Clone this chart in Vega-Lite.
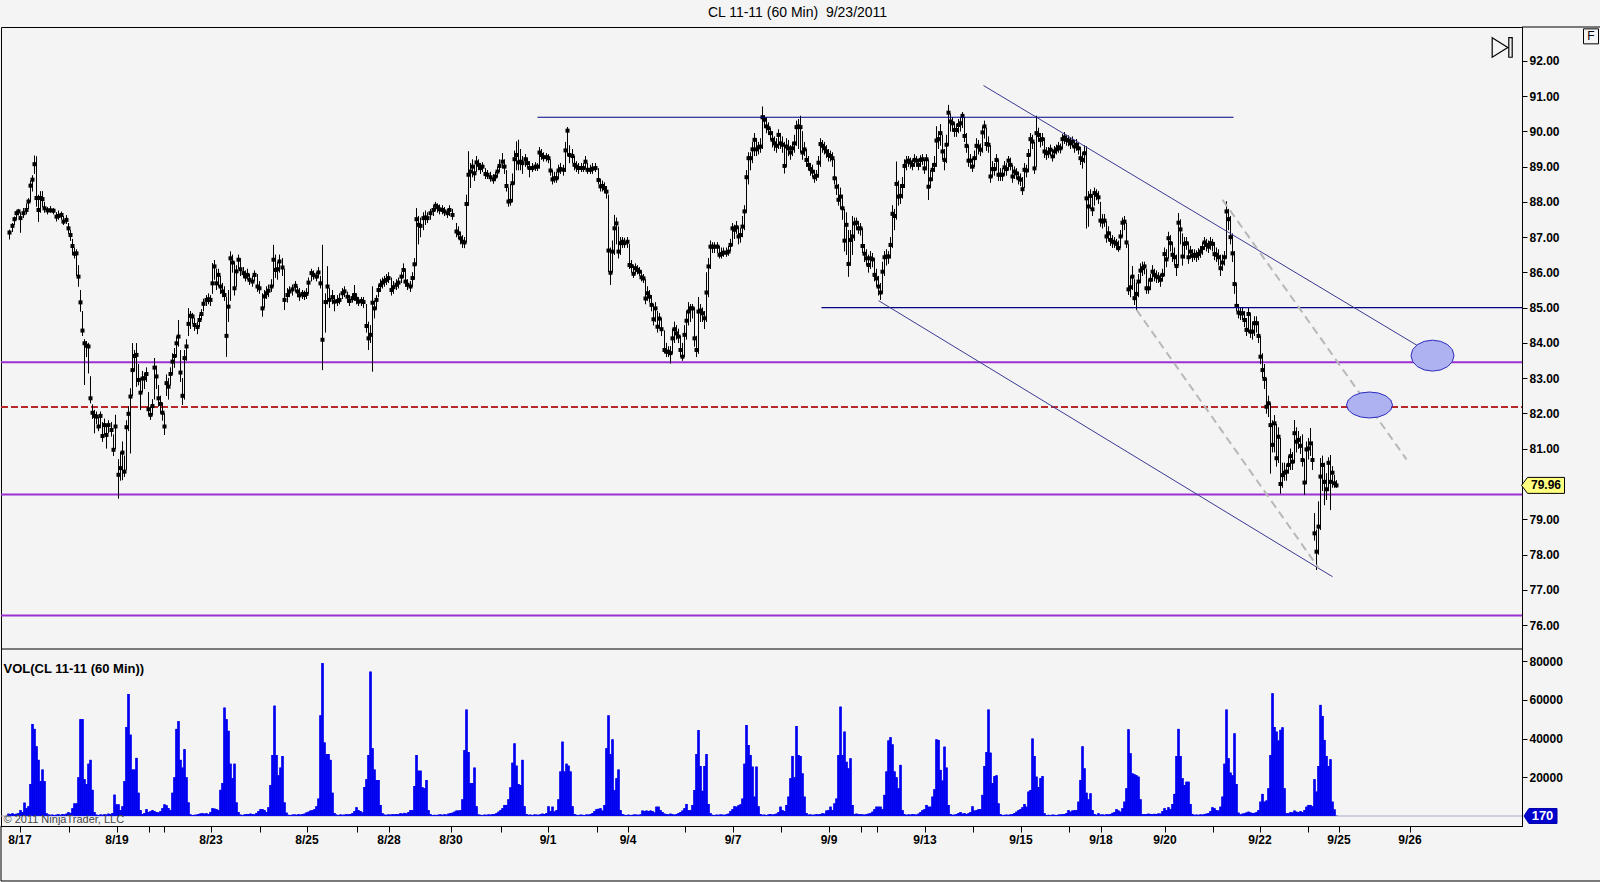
{
"$schema":"https://vega.github.io/schema/vega-lite/v6.json",
"width":1521,"height":799,
"autosize":{"type":"none"},
"padding":{"left":1,"top":27,"right":78,"bottom":56},
"background":"#f4f4f4",
"title":{"text":"CL 11-11 (60 Min) \u00a09/23/2011","fontSize":14,"fontWeight":"normal","font":"Liberation Sans","color":"#000","anchor":"middle","frame":"group","dx":36,"offset":7},
"config":{"view":{"stroke":"#000","strokeWidth":1,"fill":"#f4f4f4"},"font":"Liberation Sans","axis":{"grid":false,"domainColor":"#000","tickColor":"#000","labelColor":"#000","labelFont":"Liberation Sans","labelFontSize":12,"labelFontWeight":"bold","tickSize":5,"labelPadding":2}},
"datasets":{
"price":[
{"t":4.5,"c":87.13,"h":87.21,"l":86.94},{"t":6,"c":87.32,"h":87.40,"l":87.15},{"t":7,"c":87.51,"h":87.58,"l":87.35},{"t":8,"c":87.68,"h":87.75,"l":87.50},{"t":9,"c":87.73,"h":87.80,"l":87.62},{"t":10,"c":87.54,"h":87.70,"l":87.13},{"t":11.5,"c":87.68,"h":87.82,"l":87.55},{"t":13,"c":87.77,"h":87.95,"l":87.65},{"t":14,"c":88.01,"h":88.10,"l":87.80},{"t":15,"c":88.46,"h":88.60,"l":88.00},{"t":16,"c":88.63,"h":88.75,"l":88.30},{"t":17,"c":89.07,"h":89.31,"l":88.80},{"t":18,"c":88.11,"h":89.29,"l":87.87},{"t":19,"c":87.77,"h":88.20,"l":87.44},{"t":20,"c":88.11,"h":88.30,"l":87.70},{"t":21,"c":88.08,"h":88.30,"l":87.85},{"t":22,"c":87.82,"h":88.00,"l":87.70},{"t":23.5,"c":87.76,"h":87.85,"l":87.65},{"t":25,"c":87.76,"h":87.88,"l":87.70},{"t":26.5,"c":87.75,"h":87.82,"l":87.65},{"t":28,"c":87.58,"h":87.70,"l":87.45},{"t":29,"c":87.60,"h":87.75,"l":87.50},{"t":30.5,"c":87.63,"h":87.72,"l":87.50},{"t":31.5,"c":87.44,"h":87.60,"l":87.35},{"t":33,"c":87.49,"h":87.62,"l":87.38},{"t":34,"c":87.25,"h":87.40,"l":87.10},{"t":35,"c":87.06,"h":87.20,"l":86.90},{"t":36,"c":86.75,"h":86.95,"l":86.50},{"t":37,"c":86.53,"h":86.70,"l":86.40},{"t":38,"c":86.54,"h":86.65,"l":85.90},{"t":39,"c":85.88,"h":86.20,"l":85.60},{"t":40,"c":85.15,"h":85.50,"l":84.89},{"t":41,"c":84.35,"h":84.90,"l":84.20},{"t":42,"c":83.99,"h":84.10,"l":82.81},{"t":43,"c":83.92,"h":84.05,"l":83.60},{"t":44,"c":83.90,"h":84.00,"l":83.14},{"t":45,"c":82.43,"h":83.05,"l":82.29},{"t":46,"c":82.02,"h":82.25,"l":81.85},{"t":47,"c":81.93,"h":82.10,"l":81.44},{"t":48,"c":81.91,"h":82.05,"l":81.70},{"t":49,"c":81.63,"h":81.90,"l":81.50},{"t":50,"c":81.93,"h":82.05,"l":81.60},{"t":51,"c":81.36,"h":81.75,"l":81.20},{"t":52,"c":81.67,"h":81.85,"l":81.40},{"t":53,"c":81.39,"h":81.70,"l":81.01},{"t":54,"c":81.67,"h":81.80,"l":81.45},{"t":55.5,"c":81.53,"h":81.75,"l":81.35},{"t":56.5,"c":80.97,"h":81.40,"l":80.80},{"t":57.5,"c":81.63,"h":81.96,"l":81.00},{"t":59,"c":80.26,"h":80.70,"l":79.59},{"t":60,"c":80.45,"h":80.90,"l":80.10},{"t":61,"c":80.89,"h":81.20,"l":80.11},{"t":62,"c":80.35,"h":80.80,"l":80.20},{"t":63,"c":81.61,"h":81.80,"l":80.40},{"t":64,"c":81.99,"h":82.20,"l":81.50},{"t":65,"c":82.48,"h":82.71,"l":80.87},{"t":66,"c":83.23,"h":83.99,"l":82.50},{"t":67,"c":83.63,"h":83.80,"l":83.20},{"t":68,"c":83.66,"h":83.99,"l":82.76},{"t":69,"c":82.95,"h":83.40,"l":82.80},{"t":70,"c":82.59,"h":83.00,"l":82.10},{"t":71,"c":82.99,"h":83.20,"l":82.60},{"t":72,"c":83.00,"h":83.15,"l":82.70},{"t":73,"c":83.12,"h":83.30,"l":82.90},{"t":74,"c":82.12,"h":82.60,"l":81.95},{"t":75,"c":81.96,"h":82.20,"l":81.82},{"t":76,"c":82.21,"h":82.40,"l":81.95},{"t":77,"c":83.30,"h":83.57,"l":82.40},{"t":78,"c":83.05,"h":83.35,"l":82.70},{"t":79,"c":82.43,"h":82.80,"l":82.20},{"t":80,"c":82.27,"h":82.50,"l":82.00},{"t":81,"c":82.02,"h":82.30,"l":81.80},{"t":82,"c":81.63,"h":82.00,"l":81.39},{"t":83,"c":82.86,"h":83.10,"l":82.50},{"t":84,"c":82.76,"h":83.00,"l":82.40},{"t":85,"c":83.12,"h":83.30,"l":82.80},{"t":86,"c":83.47,"h":83.70,"l":83.10},{"t":87,"c":83.63,"h":83.85,"l":83.30},{"t":88,"c":83.99,"h":84.18,"l":83.60},{"t":89,"c":84.18,"h":84.65,"l":83.90},{"t":90,"c":83.16,"h":83.80,"l":82.90},{"t":91,"c":82.50,"h":83.00,"l":82.24},{"t":92,"c":83.57,"h":83.80,"l":82.40},{"t":93,"c":83.90,"h":84.10,"l":83.50},{"t":94,"c":84.54,"h":84.98,"l":84.20},{"t":95,"c":84.77,"h":84.90,"l":84.40},{"t":96,"c":84.75,"h":84.85,"l":84.55},{"t":97,"c":84.51,"h":84.70,"l":84.35},{"t":98.5,"c":84.45,"h":84.60,"l":84.25},{"t":99.5,"c":84.65,"h":84.80,"l":84.45},{"t":100.5,"c":84.82,"h":84.95,"l":84.65},{"t":101.5,"c":85.11,"h":85.25,"l":84.90},{"t":103,"c":85.22,"h":85.35,"l":85.05},{"t":104,"c":85.24,"h":85.40,"l":85.10},{"t":105,"c":85.22,"h":85.35,"l":85.05},{"t":106,"c":85.69,"h":86.26,"l":85.40},{"t":107,"c":86.17,"h":86.35,"l":85.80},{"t":108,"c":85.69,"h":86.10,"l":85.50},{"t":109,"c":85.93,"h":86.10,"l":85.60},{"t":110,"c":85.60,"h":85.90,"l":85.40},{"t":111,"c":85.46,"h":85.70,"l":85.30},{"t":112,"c":85.36,"h":85.60,"l":85.20},{"t":113,"c":84.20,"h":85.30,"l":83.61},{"t":114,"c":85.03,"h":85.50,"l":84.60},{"t":115,"c":86.40,"h":86.59,"l":85.20},{"t":116,"c":86.28,"h":86.50,"l":86.00},{"t":117,"c":85.55,"h":86.30,"l":85.35},{"t":118,"c":86.03,"h":86.20,"l":85.60},{"t":119,"c":86.36,"h":86.50,"l":86.10},{"t":120,"c":86.09,"h":86.40,"l":85.90},{"t":121.5,"c":85.98,"h":86.15,"l":85.85},{"t":122.5,"c":85.88,"h":86.05,"l":85.75},{"t":123.5,"c":85.93,"h":86.10,"l":85.80},{"t":124.5,"c":85.79,"h":85.95,"l":85.65},{"t":126,"c":85.74,"h":85.90,"l":85.60},{"t":127,"c":85.93,"h":86.05,"l":85.75},{"t":128.5,"c":85.60,"h":85.95,"l":85.45},{"t":129.5,"c":85.55,"h":85.75,"l":85.40},{"t":131,"c":84.98,"h":85.40,"l":84.75},{"t":132,"c":85.32,"h":85.50,"l":85.00},{"t":133,"c":85.41,"h":85.60,"l":85.25},{"t":134,"c":85.48,"h":85.65,"l":85.30},{"t":135.5,"c":85.60,"h":85.80,"l":85.45},{"t":136.5,"c":86.36,"h":86.78,"l":85.60},{"t":137.5,"c":86.07,"h":86.50,"l":85.85},{"t":138.5,"c":86.09,"h":86.30,"l":85.80},{"t":139.5,"c":86.31,"h":86.50,"l":86.00},{"t":141,"c":86.14,"h":86.40,"l":85.90},{"t":142,"c":85.22,"h":86.10,"l":84.94},{"t":143.5,"c":85.36,"h":85.55,"l":85.15},{"t":144.5,"c":85.46,"h":85.60,"l":85.30},{"t":146,"c":85.52,"h":85.65,"l":85.35},{"t":147.5,"c":85.62,"h":85.75,"l":85.45},{"t":148.5,"c":85.46,"h":85.60,"l":85.30},{"t":149.5,"c":85.35,"h":85.55,"l":85.20},{"t":151,"c":85.39,"h":85.50,"l":85.25},{"t":152,"c":85.36,"h":85.48,"l":85.22},{"t":153,"c":85.39,"h":85.55,"l":85.25},{"t":154,"c":85.71,"h":85.85,"l":85.40},{"t":155.5,"c":85.98,"h":86.10,"l":85.75},{"t":156.5,"c":85.93,"h":86.05,"l":85.80},{"t":158,"c":85.88,"h":86.00,"l":85.75},{"t":159,"c":86.00,"h":86.15,"l":85.85},{"t":160,"c":85.69,"h":85.90,"l":85.55},{"t":161,"c":84.09,"h":86.78,"l":83.23},{"t":162.5,"c":85.16,"h":85.40,"l":84.30},{"t":163.5,"c":85.60,"h":86.17,"l":85.10},{"t":164.5,"c":85.22,"h":85.55,"l":85.00},{"t":166,"c":85.30,"h":85.50,"l":85.10},{"t":167,"c":85.17,"h":85.35,"l":84.90},{"t":168.5,"c":85.19,"h":85.35,"l":85.05},{"t":169.5,"c":85.22,"h":85.40,"l":85.10},{"t":171,"c":85.41,"h":85.55,"l":85.25},{"t":172,"c":85.46,"h":85.60,"l":85.30},{"t":173.5,"c":85.31,"h":85.45,"l":85.15},{"t":174.5,"c":85.19,"h":85.35,"l":85.05},{"t":176,"c":85.27,"h":85.40,"l":85.15},{"t":177,"c":85.36,"h":85.64,"l":85.20},{"t":178,"c":85.25,"h":85.40,"l":85.10},{"t":179,"c":85.17,"h":85.30,"l":85.05},{"t":180.5,"c":85.19,"h":85.30,"l":85.05},{"t":181.5,"c":85.16,"h":85.30,"l":85.00},{"t":183,"c":84.48,"h":85.10,"l":84.30},{"t":184,"c":84.13,"h":84.60,"l":83.80},{"t":185,"c":84.23,"h":84.50,"l":84.00},{"t":186,"c":85.14,"h":85.60,"l":83.19},{"t":187,"c":84.98,"h":85.20,"l":84.70},{"t":188,"c":85.22,"h":85.35,"l":84.95},{"t":189,"c":85.50,"h":85.65,"l":85.30},{"t":190,"c":85.64,"h":85.80,"l":85.45},{"t":191,"c":85.71,"h":85.85,"l":85.55},{"t":192,"c":85.76,"h":85.90,"l":85.60},{"t":193,"c":85.79,"h":85.95,"l":85.65},{"t":194,"c":85.84,"h":86.00,"l":85.70},{"t":195.5,"c":85.50,"h":85.85,"l":85.35},{"t":196.5,"c":85.58,"h":85.75,"l":85.40},{"t":198,"c":85.65,"h":85.80,"l":85.50},{"t":199,"c":85.71,"h":85.85,"l":85.55},{"t":200.5,"c":85.88,"h":86.00,"l":85.70},{"t":201.5,"c":86.07,"h":86.25,"l":85.85},{"t":202.5,"c":85.74,"h":86.10,"l":85.60},{"t":203.5,"c":85.65,"h":85.80,"l":85.50},{"t":205,"c":85.60,"h":85.75,"l":85.45},{"t":206,"c":85.84,"h":86.00,"l":85.60},{"t":207,"c":86.23,"h":86.40,"l":85.80},{"t":208,"c":87.51,"h":87.82,"l":86.20},{"t":209,"c":87.35,"h":87.60,"l":86.80},{"t":210,"c":87.32,"h":87.55,"l":87.00},{"t":211.5,"c":87.54,"h":87.70,"l":87.20},{"t":212.5,"c":87.56,"h":87.75,"l":87.35},{"t":213.5,"c":87.54,"h":87.70,"l":87.40},{"t":215,"c":87.68,"h":87.80,"l":87.50},{"t":216.5,"c":87.77,"h":87.90,"l":87.60},{"t":217.5,"c":87.89,"h":88.00,"l":87.75},{"t":218.5,"c":87.85,"h":87.95,"l":87.70},{"t":219.5,"c":87.79,"h":87.92,"l":87.65},{"t":221,"c":87.77,"h":87.90,"l":87.65},{"t":222,"c":87.73,"h":87.85,"l":87.60},{"t":223.5,"c":87.68,"h":87.80,"l":87.55},{"t":224.5,"c":87.77,"h":87.90,"l":87.60},{"t":226,"c":87.63,"h":87.80,"l":87.50},{"t":228,"c":87.16,"h":87.40,"l":87.00},{"t":229,"c":87.11,"h":87.30,"l":86.95},{"t":230,"c":86.97,"h":87.15,"l":86.80},{"t":231,"c":86.87,"h":87.05,"l":86.70},{"t":232,"c":86.85,"h":87.00,"l":86.69},{"t":233,"c":87.94,"h":88.20,"l":86.85},{"t":234,"c":88.77,"h":89.43,"l":87.90},{"t":235,"c":88.86,"h":89.10,"l":88.40},{"t":236,"c":89.00,"h":89.20,"l":88.70},{"t":237,"c":88.81,"h":89.05,"l":88.60},{"t":238,"c":89.12,"h":89.30,"l":88.85},{"t":239,"c":89.05,"h":89.20,"l":88.90},{"t":240,"c":88.96,"h":89.10,"l":88.80},{"t":241,"c":89.00,"h":89.12,"l":88.85},{"t":242.5,"c":88.79,"h":88.95,"l":88.65},{"t":243.5,"c":88.77,"h":88.90,"l":88.65},{"t":245,"c":88.70,"h":88.85,"l":88.58},{"t":246.5,"c":88.64,"h":88.78,"l":88.52},{"t":247.5,"c":88.72,"h":88.85,"l":88.60},{"t":248.5,"c":88.86,"h":89.00,"l":88.70},{"t":249.5,"c":89.02,"h":89.20,"l":88.85},{"t":251,"c":89.14,"h":89.38,"l":88.95},{"t":252,"c":89.00,"h":89.20,"l":88.80},{"t":253,"c":88.45,"h":88.90,"l":88.30},{"t":254,"c":88.01,"h":88.40,"l":87.87},{"t":255,"c":88.03,"h":88.50,"l":87.90},{"t":256,"c":88.53,"h":88.80,"l":88.00},{"t":257,"c":89.21,"h":89.45,"l":88.50},{"t":258,"c":89.33,"h":89.71,"l":88.90},{"t":259,"c":89.12,"h":89.76,"l":88.90},{"t":260,"c":89.14,"h":89.50,"l":88.90},{"t":261,"c":89.10,"h":89.30,"l":88.80},{"t":262.5,"c":89.21,"h":89.35,"l":89.00},{"t":263.5,"c":89.10,"h":89.25,"l":88.95},{"t":264.5,"c":88.96,"h":89.15,"l":88.70},{"t":266,"c":88.96,"h":89.10,"l":88.85},{"t":267.5,"c":89.00,"h":89.12,"l":88.88},{"t":268.5,"c":89.00,"h":89.10,"l":88.88},{"t":269.5,"c":89.40,"h":89.55,"l":88.95},{"t":270.5,"c":89.33,"h":89.50,"l":89.20},{"t":271.5,"c":89.27,"h":89.40,"l":89.15},{"t":273,"c":89.27,"h":89.38,"l":89.15},{"t":274,"c":89.24,"h":89.35,"l":89.10},{"t":275,"c":88.89,"h":89.20,"l":88.75},{"t":276,"c":88.64,"h":88.90,"l":88.50},{"t":277,"c":88.67,"h":88.85,"l":88.55},{"t":278,"c":88.67,"h":88.85,"l":88.55},{"t":279,"c":88.89,"h":89.05,"l":88.65},{"t":280,"c":88.93,"h":89.10,"l":88.80},{"t":281.5,"c":88.91,"h":89.05,"l":88.75},{"t":282.5,"c":89.46,"h":89.70,"l":88.85},{"t":283.5,"c":90.02,"h":90.12,"l":89.30},{"t":284.5,"c":89.33,"h":89.60,"l":89.10},{"t":286,"c":89.30,"h":89.50,"l":89.10},{"t":287,"c":89.05,"h":89.30,"l":88.90},{"t":288,"c":89.00,"h":89.15,"l":88.85},{"t":289,"c":88.96,"h":89.10,"l":88.80},{"t":290.5,"c":88.96,"h":89.10,"l":88.85},{"t":291.5,"c":88.96,"h":89.10,"l":88.85},{"t":292.5,"c":89.14,"h":89.30,"l":88.95},{"t":293.5,"c":88.91,"h":89.10,"l":88.80},{"t":295,"c":88.91,"h":89.05,"l":88.80},{"t":296,"c":88.94,"h":89.10,"l":88.80},{"t":297.5,"c":88.96,"h":89.10,"l":88.85},{"t":299,"c":88.62,"h":88.95,"l":88.50},{"t":300,"c":88.44,"h":88.65,"l":88.30},{"t":301,"c":88.45,"h":88.60,"l":88.30},{"t":302,"c":88.39,"h":88.55,"l":88.25},{"t":303,"c":88.29,"h":88.45,"l":88.10},{"t":304,"c":86.62,"h":88.20,"l":86.02},{"t":305,"c":85.99,"h":86.70,"l":85.65},{"t":306,"c":86.59,"h":86.90,"l":86.00},{"t":307,"c":87.25,"h":87.63,"l":86.50},{"t":308,"c":87.39,"h":87.55,"l":86.80},{"t":309,"c":86.59,"h":87.30,"l":86.40},{"t":310,"c":86.83,"h":87.00,"l":86.50},{"t":311,"c":86.87,"h":87.00,"l":86.70},{"t":312,"c":86.83,"h":86.98,"l":86.70},{"t":313.5,"c":86.87,"h":87.00,"l":86.70},{"t":314.5,"c":86.21,"h":86.80,"l":86.10},{"t":315.5,"c":86.18,"h":86.35,"l":86.00},{"t":316.5,"c":85.96,"h":86.20,"l":85.85},{"t":317.5,"c":86.12,"h":86.25,"l":85.95},{"t":318.5,"c":86.07,"h":86.20,"l":85.95},{"t":319.5,"c":86.02,"h":86.15,"l":85.90},{"t":320.5,"c":85.86,"h":86.05,"l":85.75},{"t":321.5,"c":85.83,"h":85.95,"l":85.70},{"t":322.5,"c":85.26,"h":85.80,"l":85.10},{"t":323.5,"c":85.41,"h":85.60,"l":85.20},{"t":324.5,"c":85.31,"h":85.50,"l":85.15},{"t":325.5,"c":85.08,"h":85.35,"l":84.90},{"t":326.5,"c":84.67,"h":85.10,"l":84.50},{"t":327.5,"c":84.98,"h":85.15,"l":84.60},{"t":328.5,"c":84.46,"h":84.90,"l":84.30},{"t":329.5,"c":84.69,"h":84.85,"l":84.40},{"t":330.5,"c":84.39,"h":84.70,"l":84.20},{"t":332,"c":83.80,"h":84.35,"l":83.71},{"t":333,"c":83.75,"h":84.00,"l":83.60},{"t":334,"c":83.75,"h":83.90,"l":83.60},{"t":335,"c":83.71,"h":83.90,"l":83.42},{"t":336,"c":84.13,"h":84.40,"l":83.70},{"t":337,"c":84.39,"h":84.60,"l":84.00},{"t":338,"c":84.27,"h":84.50,"l":84.10},{"t":339,"c":84.18,"h":84.40,"l":84.00},{"t":340,"c":83.80,"h":84.20,"l":83.60},{"t":341,"c":83.61,"h":84.00,"l":83.50},{"t":342,"c":84.23,"h":84.50,"l":83.60},{"t":343,"c":84.63,"h":84.90,"l":84.10},{"t":344,"c":84.89,"h":85.15,"l":84.50},{"t":345,"c":84.98,"h":85.10,"l":84.60},{"t":346,"c":84.98,"h":85.10,"l":84.70},{"t":347,"c":84.13,"h":85.00,"l":83.90},{"t":348,"c":83.80,"h":84.20,"l":83.60},{"t":349,"c":84.89,"h":85.30,"l":83.70},{"t":350,"c":84.92,"h":85.10,"l":84.60},{"t":351,"c":84.84,"h":85.00,"l":84.60},{"t":352,"c":84.70,"h":84.90,"l":84.40},{"t":353,"c":85.43,"h":86.00,"l":84.60},{"t":354,"c":86.17,"h":86.40,"l":85.30},{"t":355,"c":86.73,"h":86.90,"l":86.10},{"t":356,"c":86.73,"h":86.85,"l":86.55},{"t":357,"c":86.73,"h":86.85,"l":86.55},{"t":358.5,"c":86.73,"h":86.85,"l":86.55},{"t":359.5,"c":86.50,"h":86.75,"l":86.40},{"t":360.5,"c":86.52,"h":86.70,"l":86.40},{"t":361.5,"c":86.56,"h":86.70,"l":86.45},{"t":363,"c":86.56,"h":86.70,"l":86.45},{"t":364,"c":86.59,"h":86.75,"l":86.48},{"t":365,"c":86.78,"h":86.95,"l":86.60},{"t":366,"c":87.25,"h":87.40,"l":86.75},{"t":367,"c":87.21,"h":87.35,"l":86.95},{"t":368,"c":87.28,"h":87.45,"l":87.10},{"t":369,"c":87.02,"h":87.30,"l":86.80},{"t":370,"c":87.06,"h":87.25,"l":86.85},{"t":371,"c":87.30,"h":87.60,"l":87.00},{"t":372,"c":87.73,"h":87.90,"l":87.20},{"t":373,"c":88.70,"h":88.90,"l":87.70},{"t":374,"c":89.24,"h":89.40,"l":88.50},{"t":375,"c":89.24,"h":89.40,"l":88.90},{"t":376,"c":89.49,"h":89.70,"l":89.10},{"t":377,"c":89.76,"h":89.95,"l":89.30},{"t":378,"c":89.49,"h":89.80,"l":89.30},{"t":379,"c":89.55,"h":89.70,"l":89.35},{"t":380,"c":89.57,"h":89.80,"l":89.40},{"t":381,"c":90.40,"h":90.70,"l":89.50},{"t":382,"c":90.33,"h":90.45,"l":90.10},{"t":383,"c":90.14,"h":90.40,"l":89.95},{"t":384,"c":90.09,"h":90.25,"l":89.90},{"t":385,"c":89.95,"h":90.10,"l":89.75},{"t":386,"c":89.76,"h":90.00,"l":89.55},{"t":387,"c":89.66,"h":89.85,"l":89.45},{"t":388,"c":89.59,"h":89.80,"l":89.40},{"t":389,"c":89.90,"h":90.05,"l":89.50},{"t":390,"c":89.66,"h":89.95,"l":89.50},{"t":391,"c":89.62,"h":89.85,"l":89.40},{"t":392,"c":89.02,"h":89.70,"l":88.81},{"t":393,"c":89.57,"h":89.80,"l":89.00},{"t":394,"c":89.52,"h":89.75,"l":89.30},{"t":395,"c":89.40,"h":89.60,"l":89.20},{"t":396,"c":89.52,"h":89.70,"l":89.30},{"t":397,"c":89.66,"h":89.90,"l":89.40},{"t":398,"c":90.12,"h":90.30,"l":89.60},{"t":399,"c":90.14,"h":90.35,"l":89.50},{"t":400,"c":90.12,"h":90.44,"l":89.40},{"t":401,"c":89.40,"h":90.00,"l":89.20},{"t":402,"c":89.49,"h":89.70,"l":89.30},{"t":403,"c":89.19,"h":89.50,"l":89.00},{"t":404,"c":89.05,"h":89.30,"l":88.90},{"t":405,"c":88.93,"h":89.10,"l":88.75},{"t":406,"c":88.86,"h":89.05,"l":88.70},{"t":407,"c":88.70,"h":88.90,"l":88.55},{"t":408,"c":88.74,"h":88.90,"l":88.60},{"t":409,"c":89.11,"h":89.30,"l":88.70},{"t":410,"c":89.64,"h":89.80,"l":89.00},{"t":411,"c":89.59,"h":89.75,"l":89.40},{"t":412,"c":89.52,"h":89.70,"l":89.35},{"t":413,"c":89.43,"h":89.60,"l":89.25},{"t":414,"c":89.33,"h":89.50,"l":89.15},{"t":415,"c":89.30,"h":89.45,"l":89.15},{"t":416,"c":89.24,"h":89.40,"l":89.00},{"t":417,"c":88.67,"h":89.20,"l":88.50},{"t":418,"c":88.43,"h":88.70,"l":88.20},{"t":419,"c":88.06,"h":88.50,"l":87.90},{"t":420,"c":88.15,"h":88.40,"l":87.80},{"t":421,"c":87.82,"h":88.20,"l":87.50},{"t":422,"c":86.90,"h":87.80,"l":86.60},{"t":423,"c":87.35,"h":87.70,"l":86.50},{"t":424,"c":86.24,"h":87.20,"l":85.88},{"t":425,"c":86.92,"h":87.20,"l":86.20},{"t":426,"c":87.02,"h":87.60,"l":86.50},{"t":427,"c":87.39,"h":87.55,"l":86.90},{"t":428,"c":87.41,"h":87.55,"l":87.20},{"t":429,"c":87.25,"h":87.45,"l":87.10},{"t":430,"c":87.25,"h":87.40,"l":87.05},{"t":431,"c":86.75,"h":87.25,"l":86.55},{"t":432,"c":86.53,"h":86.80,"l":86.30},{"t":433,"c":86.40,"h":86.65,"l":86.20},{"t":434,"c":86.21,"h":86.50,"l":86.00},{"t":435,"c":86.40,"h":86.60,"l":86.10},{"t":436,"c":86.37,"h":86.55,"l":86.15},{"t":437,"c":85.93,"h":86.40,"l":85.75},{"t":438,"c":85.83,"h":86.10,"l":85.60},{"t":439,"c":85.60,"h":85.90,"l":85.35},{"t":440,"c":85.43,"h":85.70,"l":85.22},{"t":441,"c":86.02,"h":86.30,"l":85.40},{"t":442,"c":86.43,"h":86.60,"l":85.90},{"t":443,"c":86.45,"h":86.65,"l":86.20},{"t":444,"c":86.45,"h":86.60,"l":86.25},{"t":445,"c":86.78,"h":87.00,"l":86.40},{"t":446,"c":87.66,"h":87.90,"l":86.70},{"t":447,"c":87.60,"h":87.80,"l":87.20},{"t":448,"c":88.51,"h":89.14,"l":87.50},{"t":449,"c":88.15,"h":88.60,"l":87.90},{"t":450,"c":88.17,"h":88.50,"l":87.95},{"t":451,"c":88.45,"h":88.70,"l":88.10},{"t":452,"c":89.02,"h":89.20,"l":88.40},{"t":453,"c":89.14,"h":89.30,"l":88.90},{"t":454,"c":89.17,"h":89.30,"l":89.00},{"t":455,"c":89.12,"h":89.25,"l":88.95},{"t":456,"c":89.05,"h":89.20,"l":88.90},{"t":457,"c":89.19,"h":89.35,"l":89.00},{"t":458,"c":89.17,"h":89.30,"l":89.00},{"t":459,"c":89.05,"h":89.20,"l":88.90},{"t":460,"c":89.19,"h":89.32,"l":89.00},{"t":461,"c":89.21,"h":89.35,"l":89.05},{"t":462,"c":88.95,"h":89.20,"l":88.80},{"t":463,"c":89.21,"h":89.35,"l":88.90},{"t":464,"c":88.43,"h":89.20,"l":88.06},{"t":465,"c":88.64,"h":88.90,"l":88.40},{"t":466,"c":88.91,"h":89.10,"l":88.60},{"t":467,"c":89.05,"h":89.30,"l":88.85},{"t":468,"c":89.74,"h":90.14,"l":89.00},{"t":469,"c":89.78,"h":90.00,"l":89.50},{"t":470,"c":89.95,"h":90.20,"l":89.60},{"t":471,"c":89.43,"h":89.90,"l":89.20},{"t":472,"c":89.19,"h":89.50,"l":88.90},{"t":473,"c":89.62,"h":89.90,"l":89.10},{"t":474,"c":90.53,"h":90.75,"l":89.60},{"t":475,"c":90.28,"h":90.50,"l":90.00},{"t":476,"c":90.23,"h":90.40,"l":90.00},{"t":477,"c":90.04,"h":90.25,"l":89.85},{"t":478,"c":90.04,"h":90.20,"l":89.85},{"t":479,"c":90.18,"h":90.35,"l":89.95},{"t":480,"c":90.23,"h":90.40,"l":90.00},{"t":481,"c":90.44,"h":90.55,"l":90.10},{"t":482,"c":89.87,"h":90.40,"l":89.70},{"t":483,"c":89.59,"h":89.95,"l":89.40},{"t":484,"c":89.17,"h":89.60,"l":89.00},{"t":485,"c":89.17,"h":89.35,"l":88.95},{"t":486,"c":89.00,"h":89.25,"l":88.85},{"t":487,"c":89.24,"h":89.45,"l":89.00},{"t":488,"c":89.59,"h":89.80,"l":89.20},{"t":489,"c":89.57,"h":89.75,"l":89.35},{"t":490,"c":89.48,"h":89.65,"l":89.30},{"t":491,"c":89.97,"h":90.15,"l":89.40},{"t":492,"c":90.14,"h":90.30,"l":89.80},{"t":493,"c":89.64,"h":90.10,"l":89.45},{"t":494,"c":89.62,"h":89.85,"l":89.40},{"t":495,"c":88.72,"h":89.60,"l":88.55},{"t":496,"c":88.93,"h":89.15,"l":88.70},{"t":497,"c":88.93,"h":89.10,"l":88.75},{"t":498,"c":89.19,"h":89.35,"l":88.90},{"t":499,"c":88.77,"h":89.20,"l":88.60},{"t":500,"c":88.77,"h":88.95,"l":88.60},{"t":501,"c":88.77,"h":88.95,"l":88.60},{"t":502,"c":88.98,"h":89.15,"l":88.75},{"t":503,"c":88.93,"h":89.10,"l":88.75},{"t":504,"c":89.17,"h":89.30,"l":88.90},{"t":505,"c":89.05,"h":89.25,"l":88.90},{"t":506,"c":88.72,"h":89.05,"l":88.55},{"t":507,"c":88.86,"h":89.00,"l":88.65},{"t":508,"c":88.81,"h":88.95,"l":88.65},{"t":509,"c":88.67,"h":88.85,"l":88.50},{"t":510,"c":88.63,"h":88.80,"l":88.45},{"t":511,"c":88.36,"h":88.70,"l":88.20},{"t":512,"c":88.91,"h":89.10,"l":88.40},{"t":513,"c":88.89,"h":89.05,"l":88.70},{"t":514,"c":89.33,"h":89.50,"l":88.85},{"t":515,"c":89.78,"h":89.95,"l":89.30},{"t":516,"c":89.71,"h":89.90,"l":89.50},{"t":517,"c":88.95,"h":89.70,"l":88.80},{"t":518,"c":89.95,"h":90.44,"l":89.00},{"t":519,"c":89.90,"h":90.10,"l":89.70},{"t":520,"c":89.76,"h":89.95,"l":89.55},{"t":521,"c":89.78,"h":89.95,"l":89.60},{"t":522,"c":89.43,"h":89.80,"l":89.25},{"t":523,"c":89.38,"h":89.55,"l":89.20},{"t":524,"c":89.40,"h":89.55,"l":89.25},{"t":525,"c":89.48,"h":89.62,"l":89.30},{"t":526,"c":89.29,"h":89.50,"l":89.15},{"t":527,"c":89.43,"h":89.58,"l":89.25},{"t":528,"c":89.49,"h":89.62,"l":89.35},{"t":529,"c":89.55,"h":89.70,"l":89.40},{"t":530,"c":89.52,"h":89.65,"l":89.38},{"t":531,"c":89.78,"h":89.92,"l":89.50},{"t":532,"c":89.83,"h":89.98,"l":89.65},{"t":533,"c":89.76,"h":89.90,"l":89.60},{"t":534,"c":89.74,"h":89.88,"l":89.58},{"t":535,"c":89.66,"h":89.82,"l":89.50},{"t":536,"c":89.71,"h":89.85,"l":89.55},{"t":537,"c":89.57,"h":89.75,"l":89.40},{"t":538,"c":89.62,"h":89.78,"l":89.45},{"t":539,"c":89.52,"h":89.70,"l":89.35},{"t":540,"c":89.24,"h":89.55,"l":89.05},{"t":541,"c":89.19,"h":89.40,"l":88.95},{"t":542,"c":89.38,"h":89.60,"l":89.10},{"t":543,"c":88.10,"h":89.57,"l":87.25},{"t":544,"c":87.87,"h":88.30,"l":87.30},{"t":545,"c":88.17,"h":88.35,"l":87.80},{"t":546,"c":87.79,"h":88.20,"l":87.60},{"t":547,"c":88.25,"h":88.40,"l":87.90},{"t":548,"c":88.20,"h":88.35,"l":88.05},{"t":549,"c":88.13,"h":88.30,"l":87.95},{"t":550,"c":87.47,"h":88.00,"l":87.30},{"t":551,"c":87.44,"h":87.65,"l":87.25},{"t":552,"c":87.47,"h":87.65,"l":87.30},{"t":553,"c":87.02,"h":87.45,"l":86.85},{"t":554,"c":87.11,"h":87.30,"l":86.90},{"t":555,"c":86.92,"h":87.15,"l":86.75},{"t":556,"c":86.87,"h":87.05,"l":86.70},{"t":557,"c":86.85,"h":87.00,"l":86.70},{"t":558,"c":86.81,"h":86.95,"l":86.65},{"t":559,"c":86.69,"h":86.90,"l":86.59},{"t":560,"c":87.02,"h":87.20,"l":86.70},{"t":561,"c":87.41,"h":87.55,"l":87.00},{"t":562,"c":87.44,"h":87.60,"l":87.20},{"t":563,"c":86.85,"h":87.40,"l":86.70},{"t":564,"c":85.52,"h":86.80,"l":85.36},{"t":565,"c":85.58,"h":85.90,"l":85.30},{"t":566,"c":85.88,"h":86.18,"l":85.50},{"t":567,"c":85.27,"h":85.80,"l":85.08},{"t":568,"c":85.39,"h":85.70,"l":84.94},{"t":569,"c":85.74,"h":85.95,"l":85.30},{"t":570,"c":86.05,"h":86.25,"l":85.70},{"t":571,"c":86.12,"h":86.30,"l":85.90},{"t":572,"c":86.17,"h":86.30,"l":85.95},{"t":573,"c":85.55,"h":86.10,"l":85.40},{"t":574,"c":85.55,"h":85.80,"l":85.40},{"t":575,"c":85.79,"h":85.95,"l":85.50},{"t":576,"c":86.02,"h":86.20,"l":85.75},{"t":577,"c":85.93,"h":86.10,"l":85.75},{"t":578,"c":85.88,"h":86.05,"l":85.70},{"t":579,"c":85.86,"h":86.00,"l":85.70},{"t":580,"c":85.79,"h":85.95,"l":85.60},{"t":581,"c":85.93,"h":86.10,"l":85.75},{"t":582,"c":86.52,"h":86.70,"l":85.90},{"t":583,"c":86.37,"h":86.65,"l":86.15},{"t":584,"c":86.97,"h":87.15,"l":86.40},{"t":585,"c":86.83,"h":87.05,"l":86.60},{"t":586,"c":86.50,"h":86.85,"l":86.30},{"t":587,"c":86.43,"h":86.70,"l":86.20},{"t":588,"c":86.18,"h":86.50,"l":85.90},{"t":589,"c":87.41,"h":87.68,"l":86.20},{"t":590,"c":87.22,"h":87.50,"l":86.80},{"t":591,"c":86.45,"h":87.10,"l":86.20},{"t":592,"c":86.81,"h":87.00,"l":86.40},{"t":593,"c":86.83,"h":87.00,"l":86.65},{"t":594,"c":86.43,"h":86.85,"l":86.25},{"t":595,"c":86.59,"h":86.75,"l":86.40},{"t":596,"c":86.47,"h":86.65,"l":86.30},{"t":597,"c":86.50,"h":86.65,"l":86.35},{"t":598,"c":86.47,"h":86.62,"l":86.30},{"t":599,"c":86.52,"h":86.68,"l":86.35},{"t":600,"c":86.59,"h":86.75,"l":86.42},{"t":601,"c":86.69,"h":86.85,"l":86.50},{"t":602,"c":86.85,"h":87.00,"l":86.65},{"t":603,"c":86.78,"h":86.95,"l":86.60},{"t":604,"c":86.73,"h":86.90,"l":86.55},{"t":605,"c":86.83,"h":87.00,"l":86.65},{"t":606,"c":86.81,"h":86.95,"l":86.60},{"t":607,"c":86.52,"h":86.85,"l":86.35},{"t":608,"c":86.50,"h":86.70,"l":86.30},{"t":609,"c":86.43,"h":86.65,"l":86.20},{"t":610,"c":86.12,"h":86.50,"l":85.90},{"t":611,"c":86.28,"h":86.50,"l":86.05},{"t":612,"c":86.43,"h":86.60,"l":86.20},{"t":613,"c":87.73,"h":88.01,"l":86.40},{"t":614,"c":87.51,"h":87.80,"l":87.20},{"t":615,"c":87.00,"h":87.60,"l":86.80},{"t":616,"c":86.54,"h":87.10,"l":86.30},{"t":617,"c":85.67,"h":86.60,"l":85.40},{"t":618,"c":85.05,"h":85.70,"l":84.90},{"t":619,"c":84.86,"h":85.10,"l":84.70},{"t":620,"c":84.84,"h":85.00,"l":84.65},{"t":621,"c":84.84,"h":85.00,"l":84.65},{"t":622,"c":84.65,"h":84.90,"l":84.45},{"t":623,"c":84.37,"h":84.70,"l":84.20},{"t":624,"c":84.82,"h":85.00,"l":84.30},{"t":625,"c":84.32,"h":84.85,"l":84.15},{"t":626,"c":84.32,"h":84.60,"l":84.10},{"t":627,"c":84.56,"h":84.75,"l":84.20},{"t":628,"c":84.56,"h":84.75,"l":84.30},{"t":629,"c":84.20,"h":84.60,"l":84.00},{"t":630,"c":83.61,"h":84.20,"l":83.40},{"t":631,"c":83.23,"h":83.70,"l":83.00},{"t":632,"c":82.98,"h":83.40,"l":82.70},{"t":633,"c":82.19,"h":83.00,"l":82.00},{"t":634,"c":82.29,"h":82.50,"l":81.90},{"t":635,"c":81.67,"h":82.30,"l":80.30},{"t":636,"c":81.11,"h":81.80,"l":80.90},{"t":637,"c":81.72,"h":81.95,"l":80.90},{"t":638,"c":80.73,"h":81.70,"l":80.50},{"t":639,"c":81.34,"h":81.60,"l":80.60},{"t":640,"c":80.00,"h":81.30,"l":79.73},{"t":641,"c":80.25,"h":80.60,"l":79.90},{"t":642,"c":80.32,"h":80.60,"l":80.10},{"t":643,"c":80.35,"h":80.55,"l":80.10},{"t":644,"c":80.54,"h":80.80,"l":80.30},{"t":645,"c":80.79,"h":81.00,"l":80.40},{"t":646,"c":80.63,"h":80.90,"l":80.40},{"t":647,"c":81.44,"h":81.81,"l":80.60},{"t":648,"c":81.20,"h":81.60,"l":80.90},{"t":649,"c":81.25,"h":81.50,"l":81.00},{"t":650,"c":81.08,"h":81.35,"l":80.85},{"t":651,"c":80.68,"h":81.40,"l":80.50},{"t":652,"c":80.04,"h":80.70,"l":79.69},{"t":653,"c":80.98,"h":81.20,"l":80.00},{"t":654,"c":81.01,"h":81.30,"l":80.70},{"t":655,"c":81.15,"h":81.58,"l":80.80},{"t":656,"c":80.68,"h":81.20,"l":80.40},{"t":657,"c":78.60,"h":79.17,"l":78.40},{"t":658,"c":78.08,"h":78.70,"l":77.56},{"t":659,"c":78.79,"h":79.50,"l":78.00},{"t":660,"c":80.21,"h":80.73,"l":78.70},{"t":661,"c":80.54,"h":80.80,"l":79.80},{"t":662,"c":80.06,"h":80.60,"l":79.40},{"t":663,"c":79.85,"h":80.30,"l":79.55},{"t":664,"c":80.60,"h":80.75,"l":79.80},{"t":665,"c":80.06,"h":80.82,"l":79.26},{"t":666,"c":80.32,"h":80.50,"l":79.90},{"t":667,"c":80.02,"h":80.25,"l":79.90},{"t":668,"c":79.96,"h":80.10,"l":79.90}
],
"vol":[
{"t":4,"v":1200},{"t":5,"v":1000},{"t":6,"v":1400},{"t":7,"v":900},{"t":8,"v":1200},{"t":9,"v":1500},{"t":10,"v":3000},{"t":11,"v":2000},{"t":12,"v":6900},{"t":13,"v":4000},{"t":14,"v":5000},{"t":15,"v":16500},{"t":16,"v":47500},{"t":17,"v":45000},{"t":18,"v":36000},{"t":19,"v":29000},{"t":20,"v":18000},{"t":21,"v":24000},{"t":22,"v":18000},{"t":23,"v":1400},
{"t":24,"v":800},{"t":25,"v":600},{"t":26,"v":700},{"t":27,"v":500},{"t":28,"v":700},{"t":29,"v":900},{"t":30,"v":600},{"t":31,"v":1000},{"t":32,"v":800},{"t":33,"v":1200},
{"t":34,"v":2000},{"t":35,"v":1500},{"t":36,"v":4000},{"t":37,"v":6500},{"t":38,"v":6500},{"t":39,"v":20000},{"t":40,"v":50000},{"t":41,"v":50000},{"t":42,"v":19000},{"t":43,"v":16500},{"t":44,"v":27000},{"t":45,"v":29000},{"t":46,"v":13500},{"t":47,"v":2000},
{"t":48,"v":700},{"t":49,"v":500},{"t":50,"v":800},{"t":51,"v":600},{"t":52,"v":900},{"t":53,"v":700},{"t":54,"v":1200},{"t":55,"v":1000},{"t":56,"v":1500},
{"t":57,"v":11000},{"t":58,"v":6000},{"t":59,"v":6000},{"t":60,"v":3000},{"t":61,"v":5000},{"t":62,"v":18000},{"t":63,"v":46000},{"t":64,"v":63000},{"t":65,"v":42000},{"t":66,"v":24000},{"t":67,"v":24000},{"t":68,"v":30000},{"t":69,"v":12000},{"t":70,"v":3000},
{"t":71,"v":1000},{"t":72,"v":1500},{"t":73,"v":3500},{"t":74,"v":2000},{"t":75,"v":2500},{"t":76,"v":3000},{"t":77,"v":2500},{"t":78,"v":2000},{"t":79,"v":1800},{"t":80,"v":2500},{"t":81,"v":4000},{"t":82,"v":6000},{"t":83,"v":5500},{"t":84,"v":4000},{"t":85,"v":3000},
{"t":86,"v":12000},{"t":87,"v":20000},{"t":88,"v":45000},{"t":89,"v":49000},{"t":90,"v":29000},{"t":91,"v":25000},{"t":92,"v":34500},{"t":93,"v":20000},{"t":94,"v":7000},
{"t":95,"v":800},{"t":96,"v":500},{"t":97,"v":600},{"t":98,"v":700},{"t":99,"v":1000},{"t":100,"v":1300},{"t":101,"v":1400},{"t":102,"v":1200},{"t":103,"v":1400},{"t":104,"v":1000},{"t":105,"v":2000},
{"t":106,"v":4000},{"t":107,"v":3800},{"t":108,"v":3500},{"t":109,"v":3000},{"t":110,"v":13500},{"t":111,"v":17000},{"t":112,"v":56000},{"t":113,"v":50000},{"t":114,"v":44000},{"t":115,"v":27000},{"t":116,"v":19500},{"t":117,"v":27000},{"t":118,"v":7000},{"t":119,"v":2000},
{"t":120,"v":700},{"t":121,"v":500},{"t":122,"v":800},{"t":123,"v":1000},{"t":124,"v":900},{"t":125,"v":1200},{"t":126,"v":1000},{"t":127,"v":800},{"t":128,"v":1500},{"t":129,"v":2500},
{"t":130,"v":3500},{"t":131,"v":3500},{"t":132,"v":3000},{"t":133,"v":2000},{"t":134,"v":4500},{"t":135,"v":16000},{"t":136,"v":31500},{"t":137,"v":57000},{"t":138,"v":31500},{"t":139,"v":21000},{"t":140,"v":25000},{"t":141,"v":31000},{"t":142,"v":7000},{"t":143,"v":1700},
{"t":144,"v":600},{"t":145,"v":500},{"t":146,"v":700},{"t":147,"v":800},{"t":148,"v":600},{"t":149,"v":900},{"t":150,"v":700},{"t":151,"v":1000},{"t":152,"v":1200},{"t":153,"v":1800},{"t":154,"v":2200},{"t":155,"v":2800},
{"t":156,"v":3000},{"t":157,"v":3500},{"t":158,"v":5000},{"t":159,"v":9000},{"t":160,"v":52000},{"t":161,"v":79000},{"t":162,"v":38000},{"t":163,"v":32000},{"t":164,"v":32000},{"t":165,"v":29000},{"t":166,"v":12000},{"t":167,"v":1500},
{"t":168,"v":700},{"t":169,"v":500},{"t":170,"v":800},{"t":171,"v":600},{"t":172,"v":700},{"t":173,"v":900},{"t":174,"v":800},{"t":175,"v":1000},{"t":176,"v":1500},{"t":177,"v":2500},
{"t":178,"v":4500},{"t":179,"v":3000},{"t":180,"v":2500},{"t":181,"v":1800},{"t":182,"v":15000},{"t":183,"v":19000},{"t":184,"v":31500},{"t":185,"v":74600},{"t":186,"v":35000},{"t":187,"v":24000},{"t":188,"v":18600},{"t":189,"v":18600},{"t":190,"v":5700},{"t":191,"v":1400},
{"t":192,"v":700},{"t":193,"v":600},{"t":194,"v":800},{"t":195,"v":700},{"t":196,"v":900},{"t":197,"v":800},{"t":198,"v":1000},{"t":199,"v":900},{"t":200,"v":1400},{"t":201,"v":1200},{"t":202,"v":1600},{"t":203,"v":1300},{"t":204,"v":2000},{"t":205,"v":3000},
{"t":206,"v":3000},{"t":207,"v":15500},{"t":208,"v":31500},{"t":209,"v":23400},{"t":210,"v":23400},{"t":211,"v":14800},{"t":212,"v":14300},{"t":213,"v":18600},{"t":214,"v":3000},{"t":215,"v":900},
{"t":216,"v":500},{"t":217,"v":600},{"t":218,"v":500},{"t":219,"v":700},{"t":220,"v":800},{"t":221,"v":600},{"t":222,"v":900},{"t":223,"v":700},{"t":224,"v":1200},{"t":225,"v":1500},
{"t":226,"v":1700},{"t":227,"v":2200},{"t":228,"v":2800},{"t":229,"v":2800},{"t":230,"v":3000},{"t":231,"v":8600},{"t":232,"v":34000},{"t":233,"v":55000},{"t":234,"v":33000},{"t":235,"v":17000},{"t":236,"v":17000},{"t":237,"v":25000},{"t":238,"v":5000},{"t":239,"v":800},
{"t":240,"v":600},{"t":241,"v":500},{"t":242,"v":700},{"t":243,"v":600},{"t":244,"v":800},{"t":245,"v":700},{"t":246,"v":900},{"t":247,"v":1000},{"t":248,"v":1500},{"t":249,"v":2200},
{"t":250,"v":3000},{"t":251,"v":4000},{"t":252,"v":5700},{"t":253,"v":5700},{"t":254,"v":8600},{"t":255,"v":14800},{"t":256,"v":27500},{"t":257,"v":37500},{"t":258,"v":26000},{"t":259,"v":16500},{"t":260,"v":16000},{"t":261,"v":29000},{"t":262,"v":5000},{"t":263,"v":1000},
{"t":264,"v":600},{"t":265,"v":700},{"t":266,"v":500},{"t":267,"v":800},{"t":268,"v":700},{"t":269,"v":600},{"t":270,"v":900},{"t":271,"v":1200},{"t":272,"v":1000},{"t":273,"v":1500},
{"t":274,"v":5000},{"t":275,"v":2500},{"t":276,"v":4800},{"t":277,"v":2300},{"t":278,"v":3000},{"t":279,"v":8600},{"t":280,"v":23000},{"t":281,"v":38400},{"t":282,"v":23000},{"t":283,"v":27000},{"t":284,"v":26000},{"t":285,"v":23000},{"t":286,"v":5000},{"t":287,"v":1000},
{"t":288,"v":600},{"t":289,"v":500},{"t":290,"v":700},{"t":291,"v":600},{"t":292,"v":500},{"t":293,"v":800},{"t":294,"v":700},{"t":295,"v":1000},{"t":296,"v":1500},{"t":297,"v":2500},
{"t":298,"v":3500},{"t":299,"v":3700},{"t":300,"v":4000},{"t":301,"v":2800},{"t":302,"v":5700},{"t":303,"v":35000},{"t":304,"v":52000},{"t":305,"v":32000},{"t":306,"v":39600},{"t":307,"v":13400},{"t":308,"v":19500},{"t":309,"v":24000},{"t":310,"v":3000},{"t":311,"v":1000},
{"t":312,"v":600},{"t":313,"v":500},{"t":314,"v":700},{"t":315,"v":500},{"t":316,"v":600},{"t":317,"v":800},{"t":318,"v":700},{"t":319,"v":600},{"t":320,"v":800},{"t":321,"v":2800},{"t":322,"v":2500},{"t":323,"v":2800},{"t":324,"v":2600},{"t":325,"v":2800},{"t":326,"v":2500},{"t":327,"v":1800},{"t":328,"v":4800},{"t":329,"v":4800},{"t":330,"v":3000},{"t":331,"v":2000},{"t":332,"v":1200},{"t":333,"v":1000},{"t":334,"v":800},{"t":335,"v":1200},{"t":336,"v":900},{"t":337,"v":700},{"t":338,"v":1000},{"t":339,"v":1500},{"t":340,"v":2000},
{"t":341,"v":2800},{"t":342,"v":4000},{"t":343,"v":6200},{"t":344,"v":3000},{"t":345,"v":3000},{"t":346,"v":5700},{"t":347,"v":13400},{"t":348,"v":32000},{"t":349,"v":44400},{"t":350,"v":25800},{"t":351,"v":13000},{"t":352,"v":25800},{"t":353,"v":32000},{"t":354,"v":6200},{"t":355,"v":1400},
{"t":356,"v":600},{"t":357,"v":500},{"t":358,"v":700},{"t":359,"v":600},{"t":360,"v":800},{"t":361,"v":700},{"t":362,"v":600},{"t":363,"v":900},{"t":364,"v":1200},{"t":365,"v":2500},
{"t":366,"v":3500},{"t":367,"v":5000},{"t":368,"v":4800},{"t":369,"v":5500},{"t":370,"v":6000},{"t":371,"v":9000},{"t":372,"v":27000},{"t":373,"v":47000},{"t":374,"v":36700},{"t":375,"v":31500},{"t":376,"v":25500},{"t":377,"v":10000},{"t":378,"v":25500},{"t":379,"v":5000},{"t":380,"v":1000},
{"t":381,"v":600},{"t":382,"v":700},{"t":383,"v":500},{"t":384,"v":800},{"t":385,"v":1000},{"t":386,"v":700},{"t":387,"v":900},{"t":388,"v":1200},{"t":389,"v":2000},
{"t":390,"v":4800},{"t":391,"v":3000},{"t":392,"v":2500},{"t":393,"v":5700},{"t":394,"v":10000},{"t":395,"v":19500},{"t":396,"v":31000},{"t":397,"v":20000},{"t":398,"v":46500},{"t":399,"v":31500},{"t":400,"v":31000},{"t":401,"v":22000},{"t":402,"v":10000},{"t":403,"v":1500},
{"t":404,"v":700},{"t":405,"v":800},{"t":406,"v":600},{"t":407,"v":700},{"t":408,"v":900},{"t":409,"v":800},{"t":410,"v":1000},{"t":411,"v":1400},{"t":412,"v":1200},{"t":413,"v":2800},{"t":414,"v":3000},
{"t":415,"v":4800},{"t":416,"v":3000},{"t":417,"v":6500},{"t":418,"v":9000},{"t":419,"v":31500},{"t":420,"v":56500},{"t":421,"v":31500},{"t":422,"v":43600},{"t":423,"v":28000},{"t":424,"v":24600},{"t":425,"v":29800},{"t":426,"v":5700},{"t":427,"v":1000},
{"t":428,"v":1200},{"t":429,"v":1000},{"t":430,"v":900},{"t":431,"v":800},{"t":432,"v":700},{"t":433,"v":900},{"t":434,"v":1200},{"t":435,"v":1500},
{"t":436,"v":2200},{"t":437,"v":3500},{"t":438,"v":4800},{"t":439,"v":4800},{"t":440,"v":4800},{"t":441,"v":3500},{"t":442,"v":10900},{"t":443,"v":23000},{"t":444,"v":39000},{"t":445,"v":40700},{"t":446,"v":37000},{"t":447,"v":23000},{"t":448,"v":20000},{"t":449,"v":14300},{"t":450,"v":26400},{"t":451,"v":3000},{"t":452,"v":1000},
{"t":453,"v":600},{"t":454,"v":800},{"t":455,"v":700},{"t":456,"v":1000},{"t":457,"v":800},{"t":458,"v":700},{"t":459,"v":1200},{"t":460,"v":2000},{"t":461,"v":3000},
{"t":462,"v":3500},{"t":463,"v":5700},{"t":464,"v":4800},{"t":465,"v":4800},{"t":466,"v":10000},{"t":467,"v":13800},{"t":468,"v":39600},{"t":469,"v":39300},{"t":470,"v":23800},{"t":471,"v":18300},{"t":472,"v":35800},{"t":473,"v":25000},{"t":474,"v":5700},{"t":475,"v":1000},
{"t":476,"v":600},{"t":477,"v":700},{"t":478,"v":1000},{"t":479,"v":1500},{"t":480,"v":2000},{"t":481,"v":1200},{"t":482,"v":1500},{"t":483,"v":1000},{"t":484,"v":1400},{"t":485,"v":2000},
{"t":486,"v":5000},{"t":487,"v":2800},{"t":488,"v":3000},{"t":489,"v":3500},{"t":490,"v":3500},{"t":491,"v":10900},{"t":492,"v":25800},{"t":493,"v":33000},{"t":494,"v":55000},{"t":495,"v":32700},{"t":496,"v":17000},{"t":497,"v":20600},{"t":498,"v":21000},{"t":499,"v":6500},{"t":500,"v":1000},
{"t":501,"v":500},{"t":502,"v":600},{"t":503,"v":700},{"t":504,"v":600},{"t":505,"v":800},{"t":506,"v":1000},{"t":507,"v":1500},
{"t":508,"v":2200},{"t":509,"v":3000},{"t":510,"v":3500},{"t":511,"v":4500},{"t":512,"v":6200},{"t":513,"v":4800},{"t":514,"v":12600},{"t":515,"v":13400},{"t":516,"v":40000},{"t":517,"v":31000},{"t":518,"v":20300},{"t":519,"v":15000},{"t":520,"v":19500},{"t":521,"v":20600},{"t":522,"v":1400},
{"t":523,"v":500},{"t":524,"v":600},{"t":525,"v":500},{"t":526,"v":700},{"t":527,"v":600},{"t":528,"v":500},{"t":529,"v":700},{"t":530,"v":800},{"t":531,"v":900},{"t":532,"v":1000},{"t":533,"v":1500},
{"t":534,"v":3000},{"t":535,"v":2200},{"t":536,"v":2800},{"t":537,"v":3000},{"t":538,"v":3000},{"t":539,"v":7400},{"t":540,"v":18600},{"t":541,"v":36000},{"t":542,"v":24600},{"t":543,"v":12000},{"t":544,"v":8600},{"t":545,"v":11700},{"t":546,"v":3000},{"t":547,"v":1000},
{"t":548,"v":600},{"t":549,"v":1400},{"t":550,"v":700},{"t":551,"v":800},{"t":552,"v":600},{"t":553,"v":900},{"t":554,"v":800},{"t":555,"v":1000},{"t":556,"v":1600},{"t":557,"v":2000},
{"t":558,"v":3500},{"t":559,"v":2800},{"t":560,"v":2200},{"t":561,"v":4000},{"t":562,"v":7400},{"t":563,"v":14300},{"t":564,"v":44800},{"t":565,"v":32400},{"t":566,"v":22000},{"t":567,"v":21500},{"t":568,"v":21000},{"t":569,"v":20300},{"t":570,"v":8600},{"t":571,"v":1000},
{"t":572,"v":900},{"t":573,"v":1000},{"t":574,"v":1200},{"t":575,"v":1000},{"t":576,"v":900},{"t":577,"v":1100},{"t":578,"v":1000},{"t":579,"v":1300},{"t":580,"v":1200},{"t":581,"v":2500},
{"t":582,"v":4000},{"t":583,"v":3000},{"t":584,"v":4500},{"t":585,"v":3500},{"t":586,"v":6200},{"t":587,"v":11400},{"t":588,"v":31000},{"t":589,"v":45000},{"t":590,"v":31000},{"t":591,"v":19500},{"t":592,"v":16000},{"t":593,"v":17700},{"t":594,"v":17700},{"t":595,"v":6200},{"t":596,"v":1000},
{"t":597,"v":600},{"t":598,"v":700},{"t":599,"v":600},{"t":600,"v":800},{"t":601,"v":700},{"t":602,"v":1000},{"t":603,"v":1200},{"t":604,"v":1500},{"t":605,"v":2500},
{"t":606,"v":4500},{"t":607,"v":4000},{"t":608,"v":3000},{"t":609,"v":2800},{"t":610,"v":4800},{"t":611,"v":10000},{"t":612,"v":27000},{"t":613,"v":55000},{"t":614,"v":29800},{"t":615,"v":22400},{"t":616,"v":21000},{"t":617,"v":42700},{"t":618,"v":16500},{"t":619,"v":1700},
{"t":620,"v":800},{"t":621,"v":1200},{"t":622,"v":1400},{"t":623,"v":1800},{"t":624,"v":2200},{"t":625,"v":1800},{"t":626,"v":1500},{"t":627,"v":1600},{"t":628,"v":2000},{"t":629,"v":3000},
{"t":630,"v":7400},{"t":631,"v":11400},{"t":632,"v":7400},{"t":633,"v":8000},{"t":634,"v":14300},{"t":635,"v":31500},{"t":636,"v":63400},{"t":637,"v":46000},{"t":638,"v":43600},{"t":639,"v":39000},{"t":640,"v":44500},{"t":641,"v":45800},{"t":642,"v":14300},{"t":643,"v":1400},
{"t":644,"v":1400},{"t":645,"v":2000},{"t":646,"v":1800},{"t":647,"v":2800},{"t":648,"v":2200},{"t":649,"v":2000},{"t":650,"v":2500},{"t":651,"v":2000},{"t":652,"v":3000},
{"t":653,"v":4800},{"t":654,"v":5700},{"t":655,"v":5700},{"t":656,"v":5000},{"t":657,"v":19000},{"t":658,"v":12600},{"t":659,"v":25800},{"t":660,"v":57400},{"t":661,"v":51700},{"t":662,"v":39300},{"t":663,"v":31000},{"t":664,"v":25800},{"t":665,"v":29300},{"t":666,"v":7400},{"t":667,"v":3400},{"t":668,"v":170}
]
},
"layer":[
{"layer":[
{"data":{"name":"price"},
"mark":{"type":"rule","color":"#000","strokeWidth":1},
"encoding":{"x":{"field":"t","type":"quantitative","title":null,"scale":{"domain":[0.25,760.75],"nice":false,"zero":false,"padding":0}},
"y":{"field":"l","type":"quantitative","title":null,"scale":{"domain":[75.32,92.96],"range":[622,0],"nice":false,"zero":false},"axis":{"orient":"right","values":[76,77,78,79,80,81,82,83,84,85,86,87,88,89,90,91,92],"format":".2f","title":null}},
"y2":{"field":"h"}}},
{"data":{"values":[{"p":83.45},{"p":79.70},{"p":76.27}]},
"mark":{"type":"rule","color":"#9b30d0","strokeWidth":2},
"encoding":{"x":{"datum":0.25,"type":"quantitative","title":null},"x2":{"datum":760.75},
"y":{"field":"p","type":"quantitative","title":null}}},
{"data":{"values":[{"p":82.18}]},
"mark":{"type":"rule","color":"#b82828","strokeWidth":2,"strokeDash":[7,3]},
"encoding":{"x":{"datum":0.25,"type":"quantitative","title":null},"x2":{"datum":760.75},
"y":{"field":"p","type":"quantitative","title":null}}},
{"data":{"name":"price"},
"mark":{"type":"rule","color":"#000","strokeWidth":1},
"encoding":{"x":{"field":"t","type":"quantitative","title":null},"y":{"field":"l","type":"quantitative","title":null},"y2":{"field":"h"}}},
{"data":{"name":"price"},
"mark":{"type":"point","shape":"square","filled":true,"color":"#000","size":16,"opacity":1},
"encoding":{"x":{"field":"t","type":"quantitative","title":null},"y":{"field":"c","type":"quantitative","title":null}}},
{"data":{"values":[{"x":268.5,"y":90.40,"x2":616.5,"y2":90.40},{"x":410.5,"y":85.0,"x2":760.75,"y2":85.0}]},
"mark":{"type":"rule","color":"#000080","strokeWidth":1.2},
"encoding":{"x":{"field":"x","type":"quantitative","title":null},"x2":{"field":"x2"},"y":{"field":"y","type":"quantitative","title":null},"y2":{"field":"y2"}}},
{"data":{"values":[{"x":491.5,"y":91.30,"x2":724.5,"y2":83.38},{"x":439,"y":85.20,"x2":666,"y2":77.37}]},
"mark":{"type":"rule","color":"#3a3a94","strokeWidth":1},
"encoding":{"x":{"field":"x","type":"quantitative","title":null},"x2":{"field":"x2"},"y":{"field":"y","type":"quantitative","title":null},"y2":{"field":"y2"}}},
{"data":{"values":[{"x":568,"y":84.94,"x2":659,"y2":77.62},{"x":611,"y":88.06,"x2":703,"y2":80.70}]},
"mark":{"type":"rule","color":"#b8b8b8","strokeWidth":2,"strokeDash":[8,5]},
"encoding":{"x":{"field":"x","type":"quantitative","title":null},"x2":{"field":"x2"},"y":{"field":"y","type":"quantitative","title":null},"y2":{"field":"y2"}}},
{"data":{"values":[{"t":716,"p":83.64}]},
"mark":{"type":"point","shape":"M1,0L0.924,0.276L0.707,0.509L0.383,0.665L0,0.72L-0.383,0.665L-0.707,0.509L-0.924,0.276L-1,0L-0.924,-0.276L-0.707,-0.509L-0.383,-0.665L0,-0.72L0.383,-0.665L0.707,-0.509L0.924,-0.276Z","size":1849,"filled":true,"fill":"#aeb2f0","stroke":"#2a2ac0","strokeWidth":1,"opacity":1},
"encoding":{"x":{"field":"t","type":"quantitative","title":null},"y":{"field":"p","type":"quantitative","title":null}}},
{"data":{"values":[{"t":684.5,"p":82.24}]},
"mark":{"type":"point","shape":"M1,0L0.924,0.216L0.707,0.4L0.383,0.522L0,0.565L-0.383,0.522L-0.707,0.4L-0.924,0.216L-1,0L-0.924,-0.216L-0.707,-0.4L-0.383,-0.522L0,-0.565L0.383,-0.522L0.707,-0.4L0.924,-0.216Z","size":2116,"filled":true,"fill":"#aeb2f0","stroke":"#2a2ac0","strokeWidth":1,"opacity":1},
"encoding":{"x":{"field":"t","type":"quantitative","title":null},"y":{"field":"p","type":"quantitative","title":null}}},
{"data":{"values":[{}]},
"mark":{"type":"rule","color":"#000","strokeWidth":1},
"encoding":{"x":{"datum":760.75,"type":"quantitative","title":null},"x2":{"datum":800.5},"y":{"datum":92.96,"type":"quantitative","title":null}}},
{"data":{"values":[{"t":771.25,"p":79.96,"label":"79.96"}]},
"layer":[
{"mark":{"type":"point","shape":"M-1,0L-0.72,-0.372L1,-0.372L1,0.372L-0.72,0.372Z","size":1849,"filled":true,"fill":"#ffff80","stroke":"#000","strokeWidth":1,"opacity":1}},
{"mark":{"type":"text","fontWeight":"bold","fontSize":12,"color":"#000","align":"center","baseline":"middle","dx":3},"encoding":{"text":{"field":"label"}}}
],
"encoding":{"x":{"field":"t","type":"quantitative","title":null},"y":{"field":"p","type":"quantitative","title":null}}},
{"data":{"values":[{"t":750.85,"p":92.38}]},
"mark":{"type":"point","shape":"M-1,-0.98L0.56,0L-1,0.98Z M0.66,-0.98L1,-0.98L1,0.98L0.66,0.98Z","size":400,"filled":false,"stroke":"#000","strokeWidth":1.2,"opacity":1},
"encoding":{"x":{"field":"t","type":"quantitative","title":null},"y":{"field":"p","type":"quantitative","title":null}}},
{"data":{"values":[{"t":795.25,"p":92.695,"label":"F"}]},
"layer":[
{"mark":{"type":"point","shape":"square","size":225,"filled":false,"stroke":"#000","strokeWidth":1,"opacity":1}},
{"mark":{"type":"text","fontSize":12,"color":"#000","align":"center","baseline":"middle"},"encoding":{"text":{"field":"label"}}}
],
"encoding":{"x":{"field":"t","type":"quantitative","title":null},"y":{"field":"p","type":"quantitative","title":null}}}
]},
{"layer":[
{"data":{"name":"vol"},
"mark":{"type":"bar","color":"#0000f0","size":2.2},
"encoding":{"x":{"field":"t","type":"quantitative","title":null,"scale":{"domain":[0.25,760.75],"nice":false,"zero":false,"padding":0},
"axis":{"orient":"bottom","values":[9.5,34,58,74,81.5,105,129.5,153,178,194,225,250,273.5,298,313.5,342,366,390,414,430,438,462,486,510,534,550,582,606,629.5,653.5,669,704.5],
"labelExpr":"indexof([9.5,58,105,153,194,225,273.5,313.5,366,414,462,510,550,582,629.5,669,704.5], datum.value) >= 0 ? ['8/17','8/19','8/23','8/25','8/28','8/30','9/1','9/4','9/7','9/9','9/13','9/15','9/18','9/20','9/22','9/25','9/26'][indexof([9.5,58,105,153,194,225,273.5,313.5,366,414,462,510,550,582,629.5,669,704.5], datum.value)] : ''",
"tickSize":6,"labelPadding":2,"labelOverlap":false,"labelFlush":false,"labelBound":false,"title":null}},
"y":{"field":"v","type":"quantitative","title":null,"scale":{"domain":[-5170,86300],"range":[799,622],"nice":false,"zero":false},"axis":{"orient":"right","values":[20000,40000,60000,80000],"format":"d","title":null}},
"y2":{"datum":0}}},
{"data":{"values":[{}]},
"mark":{"type":"rule","color":"#a8aac8","strokeWidth":1},
"encoding":{"x":{"datum":0.25,"type":"quantitative","title":null},"x2":{"datum":760.75},"y":{"datum":0,"type":"quantitative","title":null}}},
{"data":{"name":"vol"},
"mark":{"type":"bar","color":"#0000f0","size":2.2},
"encoding":{"x":{"field":"t","type":"quantitative","title":null},"y":{"field":"v","type":"quantitative","title":null},"y2":{"datum":0}}},
{"data":{"values":[{}]},
"mark":{"type":"rule","color":"#000","strokeWidth":1},
"encoding":{"x":{"datum":0.25,"type":"quantitative","title":null},"x2":{"datum":760.75},"y":{"datum":86300,"type":"quantitative","title":null}}},
{"data":{"values":[{}]},
"mark":{"type":"rule","color":"#000","strokeWidth":1},
"encoding":{"x":{"datum":0.25,"type":"quantitative","title":null},"x2":{"datum":800.5},"y":{"datum":-33592,"type":"quantitative","title":null}}},
{"data":{"values":[{}]},
"mark":{"type":"rule","color":"#000","strokeWidth":1},
"encoding":{"x":{"datum":0.25,"type":"quantitative","title":null},"y":{"datum":-5170,"type":"quantitative","title":null},"y2":{"datum":-33592}}},
{"data":{"values":[{"t":1.5,"v":75970,"label":"VOL(CL 11-11 (60 Min))"}]},
"mark":{"type":"text","fontWeight":"bold","fontSize":13,"color":"#000","align":"left","baseline":"middle"},
"encoding":{"x":{"field":"t","type":"quantitative","title":null},"y":{"field":"v","type":"quantitative","title":null},"text":{"field":"label"}}},
{"data":{"values":[{"t":1.5,"v":-2326,"label":"© 2011 NinjaTrader, LLC"}]},
"mark":{"type":"text","fontSize":11,"color":"#444","align":"left","baseline":"middle"},
"encoding":{"x":{"field":"t","type":"quantitative","title":null},"y":{"field":"v","type":"quantitative","title":null},"text":{"field":"label"}}},
{"data":{"values":[{"t":770,"v":0,"label":"170"}]},
"layer":[
{"mark":{"type":"point","shape":"M-1,0L-0.7,-0.455L1,-0.455L1,0.455L-0.7,0.455Z","size":1089,"filled":true,"fill":"#0000cc","stroke":"#0000aa","strokeWidth":1,"opacity":1}},
{"mark":{"type":"text","fontWeight":"bold","fontSize":13,"color":"#fff","align":"center","baseline":"middle","dx":2},"encoding":{"text":{"field":"label"}}}
],
"encoding":{"x":{"field":"t","type":"quantitative","title":null},"y":{"field":"v","type":"quantitative","title":null}}}
]}
],
"resolve":{"scale":{"y":"independent"},"axis":{"y":"independent"}}
}
